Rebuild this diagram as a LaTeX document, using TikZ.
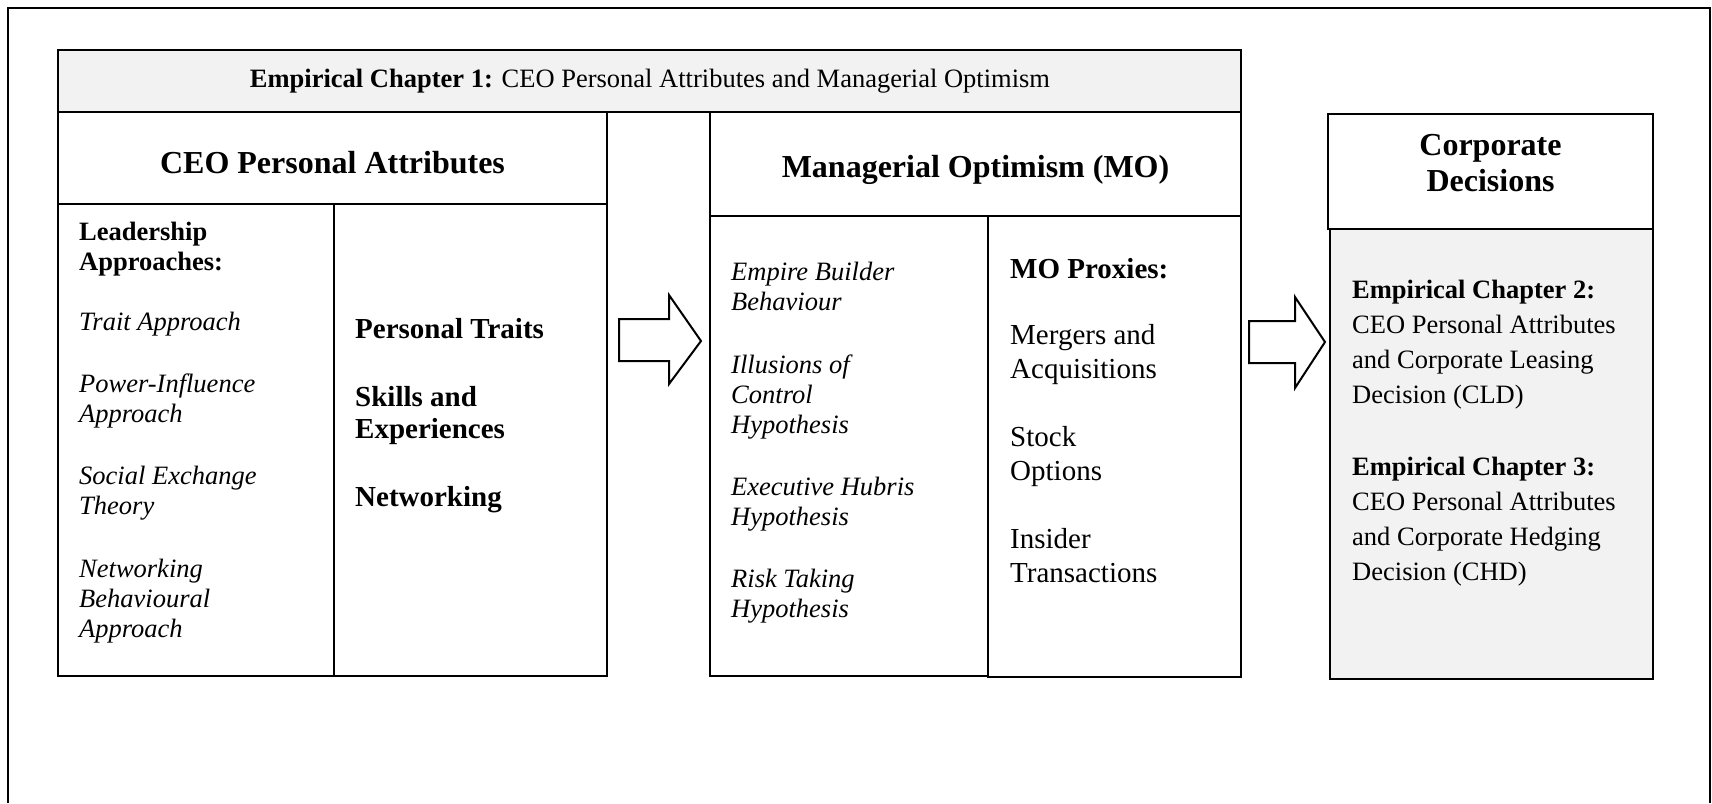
\documentclass[tikz,border=0pt]{standalone}
\usepackage{fontspec}
\setmainfont{Liberation Serif}
\usetikzlibrary{fit}
\definecolor{boxgray}{HTML}{F2F2F2}
\newcommand{\ftBody}{\fontsize{26.5}{30}\selectfont}
\newcommand{\ftBig}{\fontsize{29}{32}\selectfont}
\newcommand{\ftProx}{\fontsize{29}{34}\selectfont}
\newcommand{\ftCD}{\fontsize{26.5}{35}\selectfont}
\newcommand{\ftHead}{\fontsize{32}{36}\selectfont\bfseries}
\begin{document}
\begin{tikzpicture}[x=1pt,y=-1pt,
  box/.style={draw=black, line width=2pt, inner sep=0pt},
  graybox/.style={box, fill=boxgray},
  txt/.style={inner sep=0pt, anchor=base west},
  headtxt/.style={inner sep=0pt, anchor=base},
  blockarrow/.style={draw=black, line width=2pt, fill=white, line join=miter}]
\useasboundingbox (0,0) rectangle (1712,803);
% outer frame
\draw[line width=2.5pt] (8,803) -- (8,8) -- (1710,8) -- (1710,803);
% boxes
\node[graybox, fit={(58,50) (1241,112)}] (title) {};
\node[box, fit={(58,112) (607,204)}] (ceohead) {};
\node[box, fit={(58,204) (334,676)}] (ceoleft) {};
\node[box, fit={(334,204) (607,676)}] (ceoright) {};
\node[box, fit={(710,112) (1241,216)}] (mohead) {};
\node[box, fit={(710,216) (988,676)}] (moleft) {};
\node[box, fit={(988,216) (1241,677)}] (moright) {};
\node[box, fit={(1328,114) (1653,229)}] (cdhead) {};
\node[graybox, fit={(1330,229) (1653,679)}] (cdbody) {};
% block arrows
\draw[blockarrow] (619,319) -- (669,319) -- (669,295) -- (701,341) -- (669,384) -- (669,361) -- (619,361) -- cycle;
\draw[blockarrow] (1249,321) -- (1295,321) -- (1295,297) -- (1325,342) -- (1295,388) -- (1295,363) -- (1249,363) -- cycle;
% title
\node[headtxt] (titletext) at (650,87) {\ftBody\textbf{Empirical Chapter 1:} CEO Personal Attributes and Managerial Optimism};
% headers
\node[headtxt] (ceoheadtext) at (332.5,173) {\ftHead CEO Personal Attributes};
\node[headtxt] (moheadtext) at (975.5,177) {\ftHead Managerial Optimism (MO)};
\node[headtxt] (cdheadtext) at (1490.5,155) {\parbox[t]{300pt}{\centering\ftHead Corporate\\Decisions}};
% CEO left column
\node[txt] (ceolefttext) at (79,240) {\parbox[t]{250pt}{\raggedright\ftBody
\textbf{Leadership}\\
\textbf{Approaches:}\\[30pt]
\textit{Trait Approach}\\[32pt]
\textit{Power-Influence}\\
\textit{Approach}\\[32pt]
\textit{Social Exchange}\\
\textit{Theory}\\[33pt]
\textit{Networking}\\
\textit{Behavioural}\\
\textit{Approach}}};
% CEO right column
\node[txt] (ceorighttext) at (355,338) {\parbox[t]{240pt}{\raggedright\ftBig\bfseries
Personal Traits\\[36pt]
Skills and\\
Experiences\\[36pt]
Networking}};
% MO left column
\node[txt] (molefttext) at (731,280) {\parbox[t]{250pt}{\raggedright\ftBody\itshape
Empire Builder\\
Behaviour\\[33pt]
Illusions of\\
Control\\
Hypothesis\\[32pt]
Executive Hubris\\
Hypothesis\\[32pt]
Risk Taking\\
Hypothesis}};
% MO right column
\node[txt] (morighttext) at (1010,278) {\parbox[t]{225pt}{\raggedright\ftProx
\textbf{MO Proxies:}\\[32pt]
Mergers and\\
Acquisitions\\[34pt]
Stock\\
Options\\[34pt]
Insider\\
Transactions}};
% Corporate decisions body
\node[txt] (cdtext) at (1352,298) {\parbox[t]{295pt}{\raggedright\ftCD
\textbf{Empirical Chapter 2:}\\
CEO Personal Attributes\\
and Corporate Leasing\\
Decision (CLD)\\[37pt]
\textbf{Empirical Chapter 3:}\\
CEO Personal Attributes\\
and Corporate Hedging\\
Decision (CHD)}};
\end{tikzpicture}
\end{document}
